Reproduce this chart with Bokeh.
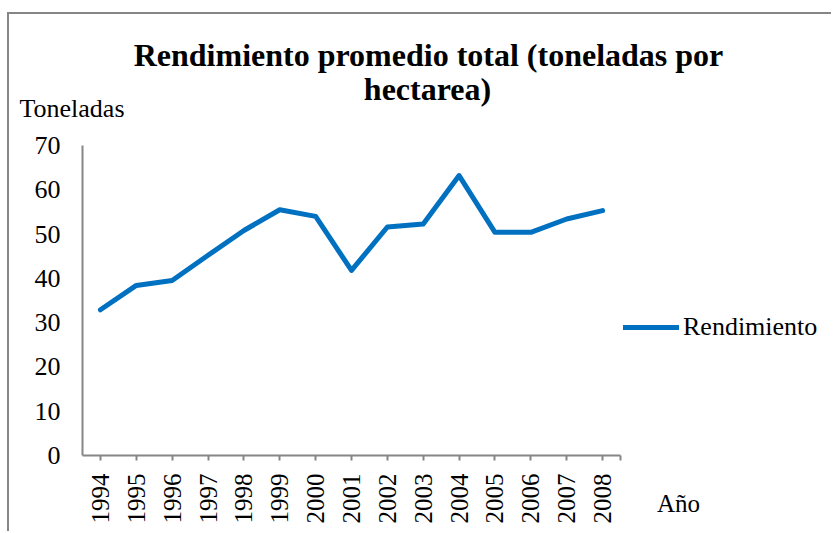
from bokeh.plotting import figure
from bokeh.models import Label, Legend, LegendItem, FixedTicker, Range1d
from bokeh.embed import file_html
from bokeh.resources import INLINE
import math

years = [1994, 1995, 1996, 1997, 1998, 1999, 2000, 2001, 2002, 2003, 2004, 2005, 2006, 2007, 2008]
rendimiento = [32.9, 38.4, 39.5, 45.2, 50.8, 55.5, 54.0, 41.8, 51.6, 52.3, 63.2, 50.4, 50.4, 53.4, 55.3]
y_ticks = [0, 10, 20, 30, 40, 50, 60, 70]
title_lines = ["Rendimiento promedio total (toneladas por", "hectarea)"]
y_title = "Toneladas"
x_title = "Año"
series_name = "Rendimiento"

FONT = "Liberation Serif"
GREY = "#868686"
BLUE = "#0070C0"

# layout (page pixels)
CANVAS_L, CANVAS_T = 9, 14
W, H = 824, 519
AX_L, AX_R, AX_T, AX_B = 82, 620, 145, 455
X0, X1 = years[0] - 0.5, years[-1] + 0.5
Y0, Y1 = y_ticks[0], y_ticks[-1]
sx = (AX_R - AX_L) / (X1 - X0)
sy = (AX_B - AX_T) / (Y1 - Y0)

def dx(px):
    return X0 + (px - AX_L) / sx

def dy(py):
    return Y0 + (AX_B - py) / sy

p = figure(width=W, height=H, output_backend="svg", toolbar_location=None,
           x_range=Range1d(dx(CANVAS_L), dx(CANVAS_L + W)),
           y_range=Range1d(dy(CANVAS_T + H), dy(CANVAS_T)),
           min_border=0)
p.styles = {"border-left": f"2px solid {GREY}", "border-top": f"2px solid {GREY}",
            "margin-left": "7px", "margin-top": "12px"}
p.outline_line_color = None
p.xgrid.grid_line_color = None
p.ygrid.grid_line_color = None
p.background_fill_color = "white"
p.border_fill_color = "white"

r = p.line(years, rendimiento, line_color=BLUE, line_width=5, line_cap="round", line_join="round")

# axes
xa = p.xaxis[0]
xa.fixed_location = Y0
xa.bounds = (X0, X1)
xa.ticker = FixedTicker(ticks=years + [X1])
xa.major_label_overrides = {X1: ""}
xa.major_label_orientation = math.pi / 2
xa.major_label_text_font = FONT
xa.major_label_text_font_size = "25px"
xa.major_label_text_color = "black"
xa.major_label_standoff = 13
xa.major_tick_out = 5
xa.major_tick_in = 0
xa.minor_tick_out = 0
xa.minor_tick_in = 0
xa.axis_line_color = GREY
xa.axis_line_width = 2
xa.major_tick_line_color = GREY
xa.major_tick_line_width = 2

ya = p.yaxis[0]
ya.fixed_location = X0
ya.bounds = (Y0, Y1)
ya.ticker = FixedTicker(ticks=y_ticks)
ya.major_label_text_font = FONT
ya.major_label_text_font_size = "26px"
ya.major_label_text_color = "black"
ya.major_label_standoff = 22
ya.major_tick_out = 0
ya.major_tick_in = 0
ya.minor_tick_out = 0
ya.minor_tick_in = 0
ya.axis_line_color = GREY
ya.axis_line_width = 2

# titles as labels
p.add_layout(Label(x=dx(428), y=dy(54), text=title_lines[0], text_font=FONT, text_font_size="32px",
                   text_font_style="bold", text_align="center", text_baseline="alphabetic",
                   text_color="black"))
p.add_layout(Label(x=dx(427), y=dy(88.5), text=title_lines[1], text_font=FONT, text_font_size="32px",
                   text_font_style="bold", text_align="center", text_baseline="alphabetic",
                   text_color="black"))
p.add_layout(Label(x=dx(19), y=dy(108), text=y_title, text_font=FONT, text_font_size="26px",
                   text_align="left", text_baseline="alphabetic", text_color="black"))
p.add_layout(Label(x=dx(656.5), y=dy(503), text=x_title, text_font=FONT, text_font_size="25px",
                   text_align="left", text_baseline="alphabetic", text_color="black"))

legend = Legend(items=[LegendItem(label=series_name, renderers=[r])],
                location=(623 - CANVAS_L, CANVAS_T + H - 326.5 - 15),
                label_text_font=FONT, label_text_font_size="26px", label_text_color="black",
                glyph_width=56, glyph_height=30, label_height=30, label_standoff=4,
                padding=0, margin=0, spacing=0,
                border_line_color=None, background_fill_alpha=0)
p.add_layout(legend)

open("out.html", "w").write(file_html(p, INLINE))
